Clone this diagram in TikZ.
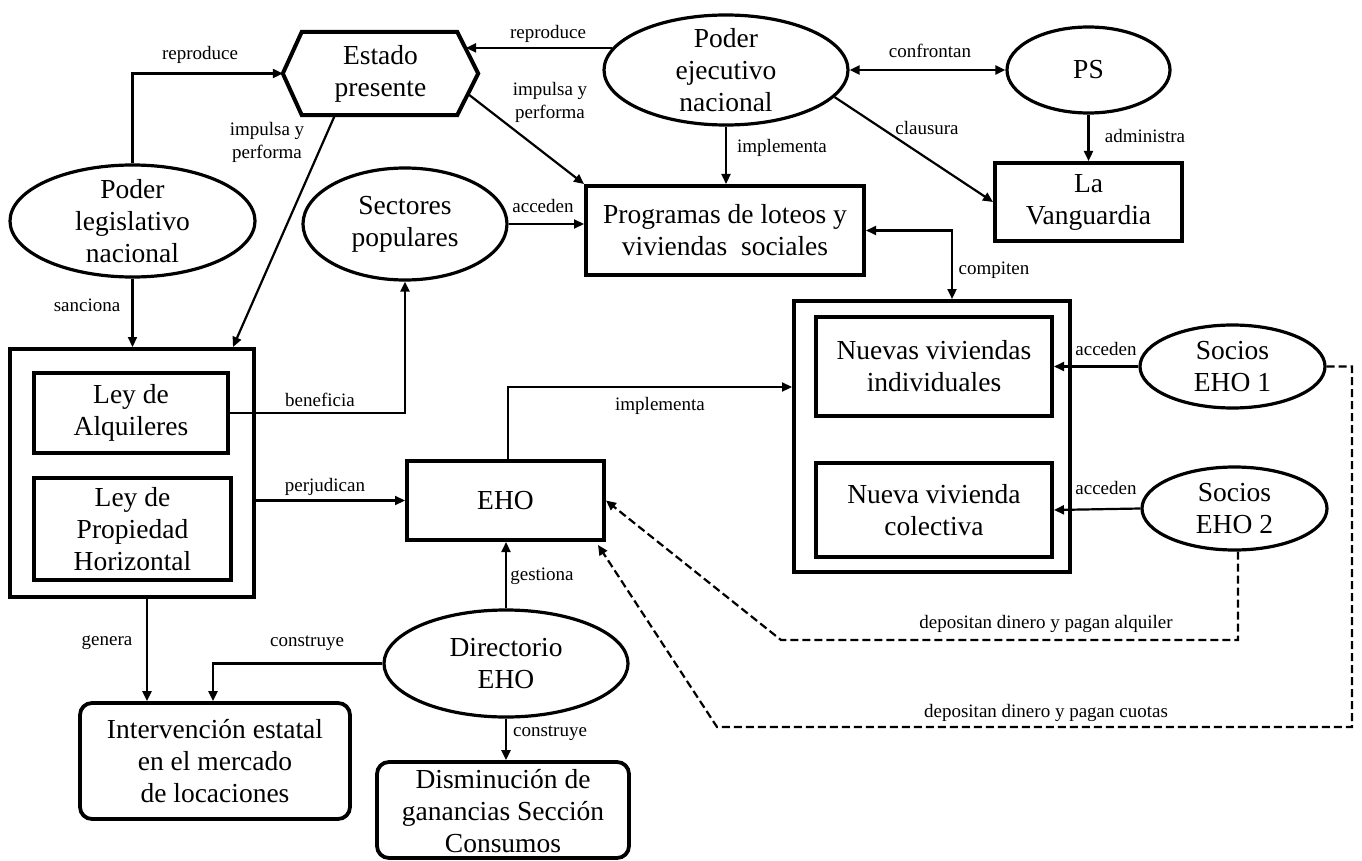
\documentclass[tikz,border=0pt]{standalone}
\usepackage{fontspec}
\setmainfont{Liberation Serif}
\usetikzlibrary{arrows.meta,shapes.geometric}
\begin{document}
\begin{tikzpicture}[x=1pt,y=-1pt,
  box/.style={draw, line width=4pt, rectangle, inner sep=0pt},
  ell/.style={draw, line width=3.2pt, ellipse, inner sep=0pt},
  rbox/.style={draw, line width=3.8pt, rounded corners=12pt, rectangle, inner sep=0pt},
  txt/.style={align=center, inner sep=0pt, font=\fontsize{27.5}{32}\selectfont},
  lbl/.style={align=center, inner sep=0pt, font=\fontsize{19}{23}\selectfont},
  arr/.style={line width=2.2pt, -{Triangle[length=10pt,width=9pt]}},
  darr/.style={arr, dash pattern=on 8pt off 4pt},
  dbl/.style={line width=2.2pt, {Triangle[length=10pt,width=9pt]}-{Triangle[length=10pt,width=9pt]}}]

\useasboundingbox (0,0) rectangle (1362,861);
\fill[white] (0,0) rectangle (1362,861);

% ---------- shapes ----------
\node[minimum width=195pt, minimum height=83pt, inner sep=0pt] (estado) at (380.5,73.5) {};
\draw[line width=4pt] (estado.west) -- ([xshift=19pt]estado.north west) -- ([xshift=-21pt]estado.north east) -- (estado.east) -- ([xshift=-21pt]estado.south east) -- ([xshift=19pt]estado.south west) -- cycle;
\node[txt] (estadoT) at (estado) {Estado\\presente};

\node[ell, minimum width=244pt, minimum height=110pt] (ejec) at (726,70) {};
\node[txt] (ejecT) at (ejec) {Poder\\ejecutivo\\nacional};

\node[ell, minimum width=163pt, minimum height=86pt] (ps) at (1088.5,70) {};
\node[txt] (psT) at (ps) {PS};

\node[box, minimum width=187pt, minimum height=78pt] (lv) at (1088.5,202) {};
\node[txt] (lvT) at (lv) {La\\Vanguardia};

\node[box, minimum width=278pt, minimum height=89pt] (prog) at (725,230.5) {};
\node[txt] (progT) at (prog) {Programas de loteos y\\viviendas\ \ sociales};

\node[ell, minimum width=204pt, minimum height=112pt] (sect) at (405,224) {};
\node[txt] (sectT) at (sect) {Sectores\\populares};

\node[ell, minimum width=245pt, minimum height=112pt] (leg) at (132.5,221) {};
\node[txt] (legT) at (leg) {Poder\\legislativo\\nacional};

\node[box, minimum width=244pt, minimum height=248pt] (leyes) at (132,473) {};
\node[box, minimum width=194pt, minimum height=80pt] (alq) at (131,413) {};
\node[txt] (alqT) at (alq) {Ley de\\Alquileres};
\node[box, minimum width=197pt, minimum height=102pt] (ph) at (132.5,529) {};
\node[txt] (phT) at (ph) {Ley de\\Propiedad\\Horizontal};

\node[box, minimum width=197pt, minimum height=79pt] (eho) at (505.5,500.5) {};
\node[txt] (ehoT) at (eho) {EHO};

\node[box, minimum width=276pt, minimum height=271pt] (viv) at (932,436.5) {};
\node[box, minimum width=236pt, minimum height=99pt] (ind) at (934,366.5) {};
\node[txt] (indT) at (ind) {Nuevas\ viviendas\\individuales};
\node[box, minimum width=236pt, minimum height=94pt] (col) at (934,510) {};
\node[txt] (colT) at (col) {Nueva\ vivienda\\colectiva};

\node[ell, minimum width=185pt, minimum height=83pt] (soc1) at (1232.5,366.5) {};
\node[txt] (soc1T) at (soc1) {Socios\\EHO 1};
\node[ell, minimum width=185pt, minimum height=83pt] (soc2) at (1234.5,508.5) {};
\node[txt] (soc2T) at (soc2) {Socios\\EHO 2};

\node[ell, minimum width=244pt, minimum height=107pt] (dir) at (506,663.5) {};
\node[txt] (dirT) at (dir) {Directorio\\EHO};

\node[rbox, minimum width=270pt, minimum height=116pt] (interv) at (215,761) {};
\node[txt] (intervT) at (interv) {Intervención\ estatal\\en el mercado\\de locaciones};

\node[rbox, minimum width=252pt, minimum height=96pt] (dism) at (503,810) {};
\node[txt] (dismT) at ([yshift=-1pt]dism) {Disminución\ de\\ganancias\ Sección\\Consumos};

% ---------- helper coordinates ----------
\coordinate (estR) at (466,49);
\coordinate (estBR) at (468,94);
\coordinate (estB) at (335,115);
\coordinate (c2) at (781,640);
\coordinate (c1) at (1352,727);
\coordinate (c1b) at (717,727);

% ---------- connectors ----------
\draw[arr] (leg.north) |- (estado.west);
\draw[arr] (ejec.169.45) -- (ejec.169.45 -| estR);
\draw[arr] (estBR) -- (prog.north west);
\draw[arr] (estB) -- ([xshift=101pt]leyes.north);
\draw[arr] (ejec.south) -- (ejec.south |- prog.north);
\draw[dbl] (ejec.east) -- (ps.west);
\draw[arr] (ejec.-14.3) -- (lv.west);
\draw[arr] (ps.south) -- (lv.north);
\draw[dbl] (prog.east) -| ([xshift=20pt]viv.north);
\draw[arr] (sect.east) -- (sect.east -| prog.west);
\draw[arr] (leg.south) -- (leg.south |- leyes.north);
\draw[arr] (alq.east) -| (sect.south);
\draw[arr] (eho.west -| leyes.east) -- (eho.west);
\draw[arr] ([xshift=15pt]leyes.south) -- ([xshift=15pt]leyes.south |- interv.north);
\draw[arr] (dir.west) -| ([xshift=-2pt]interv.north);
\draw[arr] (dir.north) -- (dir.north |- eho.south);
\draw[arr] (dir.south) -- (dir.south |- dism.north);
\draw[arr] ([xshift=2.5pt]eho.north) |- ([yshift=49.5pt]viv.west);
\draw[arr] (soc1.west) -- (ind.east);
\draw[arr] (soc2.west) -- (col.east);
\draw[darr] ([xshift=3.5pt]soc2.south) |- (c2) -- (eho.east);
\draw[darr] (soc1.east) -| (c1) -- (c1b) -- ([xshift=-8pt,yshift=-3pt]eho.south east);

% ---------- labels ----------
\node[lbl] (l1) at (200,55) {reproduce};
\node[lbl] (l2) at (548,34) {reproduce};
\node[lbl] (l3) at (550,102) {impulsa y\\performa};
\node[lbl] (l4) at (267,142) {impulsa y\\performa};
\node[lbl] (l5) at (782,148) {implementa};
\node[lbl] (l6) at (930,51) {confrontan};
\node[lbl] (l7) at (927,128) {clausura};
\node[lbl] (l8) at (1145,136) {administra};
\node[lbl] (l9) at (994,270) {compiten};
\node[lbl] (l10) at (543,206) {acceden};
\node[lbl] (l11) at (87,305) {sanciona};
\node[lbl] (l12) at (320,400) {beneficia};
\node[lbl] (l13) at (325,487) {perjudican};
\node[lbl] (l14) at (107,643) {genera};
\node[lbl] (l15) at (307,643) {construye};
\node[lbl] (l16) at (542,576) {gestiona};
\node[lbl] (l17) at (550,733) {construye};
\node[lbl] (l18) at (660,406) {implementa};
\node[lbl] (l19) at (1106,349) {acceden};
\node[lbl] (l20) at (1106,488) {acceden};
\node[lbl] (l21) at (1046,624) {depositan dinero y pagan alquiler};
\node[lbl] (l22) at (1046,713) {depositan dinero y pagan cuotas};
\end{tikzpicture}
\end{document}
